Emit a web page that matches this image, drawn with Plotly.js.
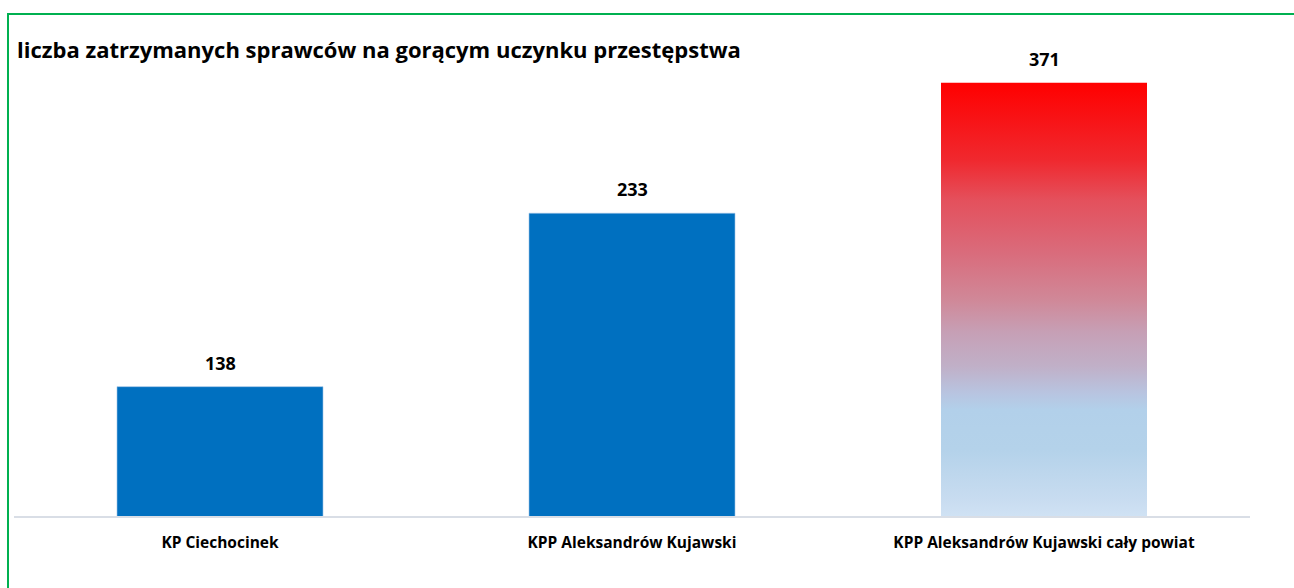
<!DOCTYPE html>
<html>
<head>
<meta charset="utf-8">
<script src="https://cdn.plot.ly/plotly-3.0.1.min.js"></script>
<style>
  html, body { margin: 0; padding: 0; background: #fff; overflow: hidden; }
  #frame { position: absolute; left: 7px; top: 13px; width: 1400px; height: 700px;
           border-top: 2px solid #00B050; border-left: 2px solid #00B050; box-sizing: border-box; }
  #chart { position: absolute; left: 0; top: 0; width: 1294px; height: 588px; }
</style>
</head>
<body>
<div id="frame"></div>
<div id="chart"></div>
<script>
const chartTitle = "liczba zatrzymanych sprawców na gorącym uczynku przestępstwa";
const categories = ["KP Ciechocinek", "KPP Aleksandrów Kujawski", "KPP Aleksandrów Kujawski cały powiat"];
const unitValues = [138, 233];          // KP / KPP (primary axis)
const districtValues = [371];           // cały powiat (secondary axis)

const FONT = "'Open Sans', sans-serif";
const BAR_W = 0.5;
const idx = categories.map((c, i) => i);

// gradient bar polygon built from the category index and value
const gi = 2, gv = districtValues[0];
const gx = [gi - BAR_W/2, gi + BAR_W/2, gi + BAR_W/2, gi - BAR_W/2, gi - BAR_W/2];
const gy = [0, 0, gv, gv, 0];

const traces = [
  {
    type: 'bar', x: idx.slice(0, 2), y: unitValues, width: BAR_W,
    marker: { color: '#0070C0', line: { color: '#9DC3E6', width: 0.6 } },
    hoverinfo: 'skip', showlegend: false, yaxis: 'y'
  },
  {
    type: 'scatter', mode: 'lines', x: gx, y: gy, yaxis: 'y2',
    fill: 'toself', line: { width: 0, color: 'rgba(0,0,0,0)' },
    fillcolor: '#B3D1EA',
    fillgradient: {
      type: 'vertical', start: 0, stop: gv,
      colorscale: [
        [0.00, '#D0E2F4'],
        [0.04, '#C8DCF0'],
        [0.154, '#B4D2EA'],
        [0.247, '#B2D0EA'],
        [0.286, '#B8C4E0'],
        [0.346, '#C0B0C8'],
        [0.424, '#C6A0B6'],
        [0.50, '#D08898'],
        [0.615, '#DA6A7A'],
        [0.73, '#E4505C'],
        [0.823, '#F0282E'],
        [1.00, '#FF0000']
      ]
    },
    hoverinfo: 'skip', showlegend: false
  }
];

const annotations = [];
unitValues.forEach((v, i) => annotations.push({
  x: i, y: v, xref: 'x', yref: 'y', text: '<b>' + v + '</b>', showarrow: false,
  yanchor: 'bottom', yshift: 10, font: { family: FONT, size: 18, color: '#000' }
}));
districtValues.forEach((v, j) => annotations.push({
  x: 2 + j, y: v, xref: 'x', yref: 'y2', text: '<b>' + v + '</b>', showarrow: false,
  yanchor: 'bottom', yshift: 10, font: { family: FONT, size: 18, color: '#000' }
}));

const layout = {
  width: 1294, height: 588,
  paper_bgcolor: 'rgba(0,0,0,0)', plot_bgcolor: 'rgba(0,0,0,0)',
  margin: { l: 14, r: 44, t: 40, b: 71 },
  title: {
    text: '<b>' + chartTitle + '</b>', x: 0, xref: 'paper', xanchor: 'left',
    y: 1, yref: 'container', yanchor: 'top', pad: { t: 43, l: 3 },
    font: { family: FONT, size: 22, color: '#000' }
  },
  xaxis: {
    type: 'linear', range: [-0.5, 2.5], tickmode: 'array', tickvals: idx,
    ticktext: categories.map(c => '<b>' + c + '</b>'),
    showgrid: false, zeroline: false, showline: false, ticks: '',
    tickfont: { family: FONT, size: 15.5, color: '#000' }, ticklabelstandoff: 14,
    fixedrange: true
  },
  yaxis: {
    range: [66.6, 327.9], visible: false, showgrid: false, zeroline: false, fixedrange: true
  },
  yaxis2: {
    range: [0, 407.5], overlaying: 'y', visible: false, showgrid: false, zeroline: false, fixedrange: true
  },
  shapes: [{
    type: 'line', xref: 'paper', yref: 'paper', x0: 0, x1: 1, y0: 0, y1: 0,
    line: { color: '#D9DEE6', width: 2 }
  }],
  annotations: annotations
};

Plotly.newPlot('chart', traces, layout, { displayModeBar: false, staticPlot: true });
</script>
</body>
</html>
